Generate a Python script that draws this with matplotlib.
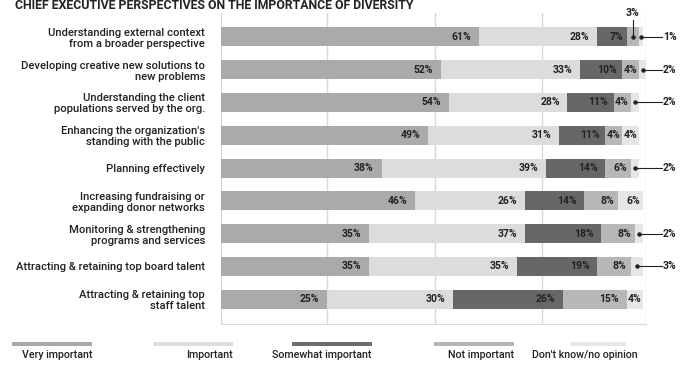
import matplotlib
matplotlib.use('Agg')
import matplotlib.pyplot as plt
import numpy as np
from matplotlib.patches import Rectangle

plt.rcParams['font.family'] = ['Roboto', 'DejaVu Sans']

categories = ['Understanding external context\nfrom a broader perspective',
              'Developing creative new solutions to\nnew problems',
              'Understanding the client\npopulations served by the org.',
              "Enhancing the organization's\nstanding with the public",
              'Planning effectively',
              'Increasing fundraising or\nexpanding donor networks',
              'Monitoring & strengthening\nprograms and services',
              'Attracting & retaining top board talent',
              'Attracting & retaining top\nstaff talent']
series = ['Very important', 'Important', 'Somewhat important', 'Not important', "Don't know/no opinion"]
very_important = [61, 52, 54, 49, 38, 46, 35, 35, 25]
important = [28, 33, 28, 31, 39, 26, 37, 35, 30]
somewhat_important = [7, 10, 11, 11, 14, 14, 18, 19, 26]
not_important = [3, 4, 4, 4, 6, 8, 8, 8, 15]
dont_know = [1, 2, 2, 4, 2, 6, 2, 3, 4]

colors = ['#aaaaaa', '#dcdcdc', '#676767', '#b7b7b7', '#e6e6e6']
legend_colors = ['#a9a9a9', '#dedede', '#6e6e6e', '#b4b4b4', '#e8e8e8']
title = 'CHIEF EXECUTIVE PERSPECTIVES ON THE IMPORTANCE OF DIVERSITY'
ink = '#222222'

W, H = 681, 366
fig = plt.figure(figsize=(W / 100, H / 100), dpi=100)
ax = fig.add_axes([221 / W, 1 - 324 / H, (646 - 221) / W, (324 - 13) / H])

data = np.array([very_important, important, somewhat_important, not_important, dont_know])
y = np.arange(len(categories))
left = np.zeros(len(categories))
for i, vals in enumerate(data):
    ax.barh(y, vals, left=left, height=0.58, color=colors[i], zorder=2)
    for j, v in enumerate(vals):
        end = left[j] + v
        cx = left[j] + v / 2
        if v >= 4:
            pad = min(1.8, v * 0.12)
            ax.text(end - pad, y[j], f'{v}%', ha='right', va='center',
                    fontsize=7.5, fontweight='bold', color=ink, zorder=3)
        elif j == 0 and i == 3:
            # small segment labelled above the bar
            ax.plot([cx], [y[j]], 'o', ms=2.2, color=ink, zorder=4, clip_on=False)
            ax.plot([cx, cx], [y[j], y[j] - 0.52], color=ink, lw=0.8, zorder=4, clip_on=False)
            ax.text(cx, y[j] - 0.72, f'{v}%', ha='center', va='center',
                    fontsize=7.5, fontweight='bold', color=ink, clip_on=False)
        else:
            ax.plot([cx], [y[j]], 'o', ms=2.2, color=ink, zorder=4, clip_on=False)
            ax.plot([cx, 104.4], [y[j], y[j]], color=ink, lw=0.8, zorder=4, clip_on=False)
            ax.text(104.6, y[j], f'{v}%', ha='left', va='center',
                    fontsize=7.5, fontweight='bold', color=ink, clip_on=False)
    left += vals

ax.set_xlim(0, 100.6)
ax.set_ylim(8.76, -0.73)
for gx in [0, 25, 50.6, 76.1, 100.6]:
    ax.axvline(gx, color='#d8d8d8', lw=1, zorder=1)
for s in ['top', 'left', 'right']:
    ax.spines[s].set_visible(False)
ax.spines['bottom'].set_color('#d8d8d8')
ax.set_xticks([])
ax.set_yticks(y)
ax.set_yticklabels(categories, fontsize=8.1, fontweight='medium', color=ink, linespacing=1.12)
ax.tick_params(axis='y', length=0, pad=11.5)

fig.text(15 / W, 1 - 9 / H, title, fontsize=8.8, fontweight='bold', color=ink,
         ha='left', va='baseline')

# legend
sw_right = [92, 233, 372, 514, 626]
sw_width = [80, 80, 80, 80, 55]
txt_right = [92, 233, 372, 514, 638]
for k, name in enumerate(series):
    fig.add_artist(Rectangle(((sw_right[k] - sw_width[k]) / W, 1 - 346 / H), sw_width[k] / W, 4 / H,
                             transform=fig.transFigure, color=legend_colors[k], lw=0))
    fig.text(txt_right[k] / W, 1 - 355 / H, name, fontsize=7.7, fontweight='medium', color=ink,
             ha='right', va='center')

fig.savefig('out.png', dpi=100)
